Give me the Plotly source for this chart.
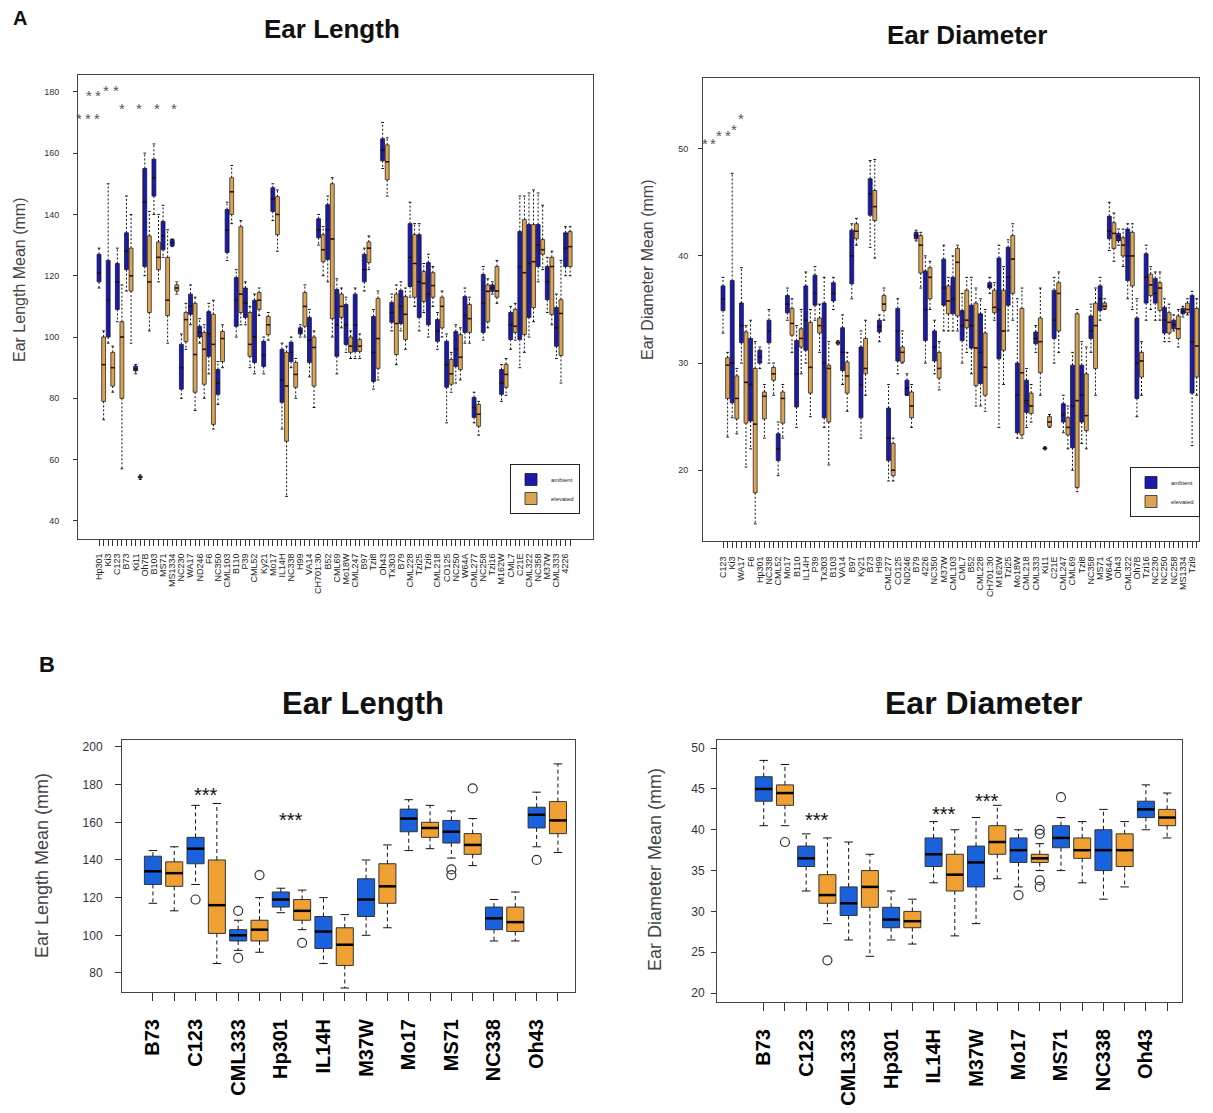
import plotly.graph_objects as go

W, H = 1213, 1113

# ---------------- Panel A (left): Ear Length, 52 genotypes ----------------
la_names = ["Hp301", "Ki3", "C123", "B73", "Ki11", "Oh7B", "B103", "MS71", "MS1334", "NC230",
            "WA17", "ND246", "F6", "NC350", "CML103", "B110", "P39", "CML52", "Ky21", "Mo17",
            "IL14H", "NC338", "H99", "VA14", "CH701:30", "B52", "CML69", "Mo18W", "CML247", "B97",
            "Tzi8", "Oh43", "Tx303", "B79", "CML228", "Tzi25", "Tzi9", "CML218", "CO125", "NC250",
            "W64A", "CML277", "NC258", "Tzi16", "M162W", "CML7", "C21E", "CML322", "NC358", "M37W",
            "CML333", "4226"]
# each row: [lower whisker, q1, median, q3, upper whisker]
la_amb = [[116, 118, 121, 127, 129], [98, 100, 112, 125, 150], [105, 109, 118, 124, 129], [115, 122, 128, 134, 146],
          [88, 89, 89.5, 90.5, 91], [120, 123, 144, 155, 160], [140, 146, 152, 158, 163], [126, 128.5, 133, 137.7, 143],
          [129.5, 129.8, 130.8, 131.8, 132], [80, 83, 90, 97.6, 101], [104, 107.4, 110, 114, 117], [98, 100, 101.5, 103.5, 106],
          [88, 93.7, 101, 108.3, 111], [78, 81.3, 85, 89.4, 92], [125, 127.6, 135, 141.6, 144], [100, 103.5, 112, 119.4, 122],
          [104, 106.4, 111, 116, 118], [88, 91.7, 100, 112, 114], [88, 90.4, 94, 98.6, 100], [138, 141, 145, 148.7, 150],
          [70, 78.7, 86, 96, 98], [90, 92, 95, 98.3, 100], [100, 101, 102, 103, 104], [87, 91.7, 99, 106.4, 109],
          [130, 132.4, 135, 138.6, 140], [118, 125.3, 135, 143.2, 146], [88, 93.7, 104, 115.5, 119], [95, 97.6, 104, 110.6, 113],
          [93, 95.3, 104, 114, 116], [115, 118, 122, 127, 129], [83, 85.5, 95, 106.7, 109], [155, 157.5, 161, 164.7, 170],
          [102, 104.8, 108, 111.3, 114], [102, 104.4, 110, 115.2, 118], [113, 116.5, 126, 137, 144], [102, 106.4, 118, 133.4, 137],
          [100, 104, 114, 124.3, 127], [96, 98.6, 102, 105.7, 108], [72, 83.6, 91, 98.6, 101], [85, 90.4, 96, 101.8, 104],
          [98, 101.5, 107, 113.2, 116], [72, 73.8, 77, 80.3, 82], [99, 101.5, 111, 120.4, 123], [114, 114.9, 116, 117, 118],
          [79, 81.3, 85, 89.4, 91], [96, 99.2, 104, 108, 110], [90, 99.2, 123, 134.4, 146], [100, 106.4, 124, 136.7, 147],
          [118, 123, 130, 136.7, 147], [108, 112.2, 118, 123, 126], [93, 97, 103, 109.6, 114], [120, 123, 129, 134, 136]]
la_ele = [[73, 79, 91, 100, 102], [82, 84, 90, 95, 97], [57, 80, 100, 105, 117], [98, 115, 120, 129, 140],
          [53.5, 54, 54.3, 54.6, 55], [102, 108, 118, 133, 141], [118, 122, 126, 131, 140], [98, 107, 112, 126, 135],
          [114, 115, 116, 117, 118], [96, 98.5, 105.7, 108, 111], [76, 82, 94.3, 111, 113], [80, 84.6, 96, 101.5, 104],
          [70, 71.5, 97.6, 107.4, 112], [90, 92, 99.5, 101.8, 104], [137, 140, 147.4, 152, 156], [104, 108, 114, 136, 138],
          [90, 93.7, 97.6, 108, 110], [107, 109, 112, 114.5, 116], [99, 100.8, 104, 106.7, 108], [128, 133.4, 140, 145.8, 148],
          [48, 66, 84, 95, 97], [80, 83.6, 87.8, 91.7, 93], [100, 103.5, 110, 114.5, 117], [77, 84, 96.6, 100, 102],
          [120, 124.6, 128.5, 133.4, 136], [100, 106, 132, 150, 152], [103, 106.4, 110, 114, 116], [93, 95, 97, 100, 102],
          [93, 95.3, 97, 99.2, 101], [122, 124.3, 129, 131, 133], [86, 89.8, 99.5, 112.6, 115], [146, 151.3, 157.2, 162.7, 165],
          [91, 94.3, 104.4, 114, 117], [96, 99.2, 107.4, 113.2, 116], [110, 113, 124, 133.4, 137], [108, 111.6, 117.5, 121.4, 124],
          [110, 113, 116.8, 121, 123], [100, 103, 110, 113, 115], [82, 84.6, 88, 92.7, 95], [86, 89.4, 93.4, 100.8, 103],
          [98, 101.5, 106, 110.6, 113], [68, 70.9, 74.8, 78, 79], [103, 105, 114.9, 117, 119], [111, 113, 115, 123, 125],
          [81, 83.6, 87.8, 91.1, 93], [99, 101.5, 103.5, 109, 111], [95, 100.8, 121, 138.3, 146], [105, 109.6, 124.6, 136.7, 148],
          [122, 127, 128.5, 131.8, 143], [104, 107.4, 123, 126, 128], [85, 94, 107.7, 112.2, 125], [120, 123, 129.5, 134.4, 136]]
la_yticks = [40, 60, 80, 100, 120, 140, 160, 180]

# ---------------- Panel A (right): Ear Diameter, 52 genotypes ----------------
ra_names = ["C123", "Ki3", "WA17", "F6", "Hp301", "NC338", "CML52", "Mo17", "B110", "IL14H",
            "P39", "Tx303", "B103", "VA14", "B97", "Ky21", "B73", "H99", "CML277", "CO125",
            "ND246", "B79", "4226", "NC350", "M37W", "CML103", "CML7", "B52", "CML228", "CH701:30",
            "M162W", "Tzi25", "Mo18W", "CML218", "CML333", "Ki11", "C21E", "CML247", "CML69", "Tzi8",
            "NC358", "MS71", "W64A", "Oh43", "CML322", "Oh7B", "Tzi16", "NC230", "NC250", "NC258",
            "MS1334", "Tzi9"]
ra_amb = [[32.8, 34.9, 36, 37.2, 38], [24.9, 26.3, 30, 37.7, 47.7], [30, 31.9, 33.5, 35.6, 38.9], [22, 24.6, 28, 32.3, 34],
          [29.5, 30, 30.6, 31.2, 31.5], [30, 31.9, 33, 34, 35], [19.5, 20.9, 22, 23.4, 24.5], [34, 34.7, 35.5, 36.3, 37],
          [24, 25.9, 29, 32.1, 33.5], [30, 31.2, 34, 37.2, 38.5], [34, 35.4, 36.5, 38.2, 39], [24, 24.9, 30, 35.6, 38],
          [35, 35.8, 36.5, 37.5, 38], [28, 29.3, 31, 33.3, 34.5], [36, 37.4, 40, 42.4, 43], [23, 24.9, 28, 31.5, 33],
          [40.8, 43.8, 45.8, 47.2, 48.9], [32, 32.9, 33.4, 34, 34.5], [19, 20.9, 23, 25.8, 28], [29, 30.2, 33, 35.1, 36],
          [27, 27, 27.7, 28.4, 29], [41.4, 41.6, 41.9, 42.2, 42.4], [30, 32.1, 35, 38.6, 40], [29, 30.2, 31.5, 33, 34],
          [33, 35.4, 37, 39.7, 41], [33, 34.6, 36, 38, 40], [30, 32.1, 33.5, 34.9, 36.5], [29, 31.4, 33.5, 35.4, 38],
          [26, 28.1, 31, 34.6, 36], [36.5, 37, 37.2, 37.5, 38], [24, 30.4, 35, 39.8, 41], [33, 35.4, 38, 40.8, 41.5],
          [23, 23.5, 27, 30, 36], [24, 25.4, 26.5, 28.4, 29.5], [31, 31.8, 32.3, 32.9, 33.5], [21.9, 22, 22.05, 22.1, 22.2],
          [30, 32.3, 34, 36.8, 38], [23.5, 24.5, 25.2, 26.2, 27], [20, 22.1, 26, 29.8, 31], [22.5, 24.5, 27, 29.8, 32],
          [31, 32.3, 33, 34.4, 35.5], [34, 34.9, 36, 37.2, 38], [40.5, 41.6, 42.3, 43.7, 45], [41, 41.4, 41.8, 42.1, 42.5],
          [36, 37.7, 40, 42.5, 43], [25, 26.7, 30, 34.2, 36], [34, 35.6, 38, 40.2, 41], [34, 35.6, 36.5, 37.9, 38.5],
          [32, 32.8, 34, 35.2, 36], [33, 33.2, 33.6, 34, 34.5], [34.3, 34.6, 34.8, 35.1, 35.3], [22.3, 27.2, 32, 36.3, 36.7]]
ra_ele = [[23.1, 26.7, 29.8, 30.5, 31], [23.4, 24.8, 26.7, 28.8, 29.5], [20.3, 24.4, 28.2, 32.9, 33.5], [15, 17.9, 24.3, 29.5, 32],
          [23, 24.8, 26.9, 27.3, 28], [27, 28.4, 29, 29.6, 30], [23, 24.4, 26.7, 27.3, 28], [31, 32.6, 33.7, 35.1, 36],
          [29, 31.5, 32.3, 33.2, 35], [25, 27.2, 29.6, 33.8, 35], [31, 32.8, 33.5, 34.2, 35.5], [20.5, 24.5, 29.5, 29.8, 32],
          [31.7, 31.8, 31.9, 32, 32.1], [25.5, 27.2, 28.8, 30.1, 31], [41, 41.6, 42.3, 43, 43.5], [27, 29, 29.5, 32.3, 34],
          [39.8, 43.3, 44.6, 46.1, 49], [34, 34.9, 35.5, 36.3, 37], [19, 19.5, 20, 22.5, 23], [30, 30.1, 31, 31.5, 33],
          [24, 24.9, 26, 27.3, 28], [37, 38.4, 41, 41.9, 42.2], [35, 36, 38, 38.9, 39.5], [27.5, 28.6, 29.5, 31, 32],
          [33, 34.6, 35.8, 37.2, 38], [33, 34.4, 39.4, 40.7, 41], [31, 33.3, 34, 36.8, 38], [26, 27.9, 31.4, 35.6, 37],
          [25.5, 27, 29.6, 32.8, 35], [34, 34.7, 35.2, 36.8, 37.5], [28, 31.2, 33, 36.8, 39], [34, 36.5, 39.7, 41.9, 43],
          [23, 23.3, 29.1, 35.1, 37], [24.5, 25.3, 26, 27.2, 28], [27, 29.1, 32, 34.2, 37], [24, 24.1, 24.5, 25, 25.2],
          [31, 33, 36.5, 37.5, 38.5], [22, 23.3, 24, 24.9, 26], [18, 18.4, 26.5, 34.6, 35], [22, 23.7, 25.1, 29, 31.5],
          [27, 29.5, 33.5, 35.6, 37], [35, 35.1, 35.3, 35.6, 36], [39.5, 40.7, 42.1, 43.1, 44], [39, 40, 41, 41.7, 42.5],
          [35, 37.2, 40, 42.2, 43], [27, 28.7, 30.2, 31, 32], [35, 36.3, 37.3, 38.3, 39], [34, 34.9, 37, 37.5, 38.5],
          [32, 32.8, 33.8, 34.7, 35.5], [31.5, 32.3, 33.2, 34.4, 35], [34.5, 34.7, 35, 35.6, 36], [27, 28.7, 31.6, 35.1, 36]]
ra_yticks = [20, 30, 40, 50]

# ---------------- Panel B: 10 genotypes ----------------
b_names = ["B73", "C123", "CML333", "Hp301", "IL14H", "M37W", "Mo17", "MS71", "NC338", "Oh43"]
lb_amb = [[117, 127, 134, 142, 145], [127, 138, 146, 152, 169], [92, 97, 100, 103, 108], [112, 115, 119, 123, 125],
          [85, 93, 102, 110, 120], [100, 110, 119, 130, 140], [145, 155, 162, 167, 172], [141, 149, 155, 161, 166],
          [97, 103, 109, 115, 119], [147, 157, 164, 168, 176]]
lb_ele = [[113, 126, 133, 139, 147], [85, 101, 116, 140, 170], [91, 97, 103, 108, 120], [103, 108, 113, 119, 124],
          [72, 84, 95, 104, 111], [104, 117, 126, 138, 148], [146, 152, 157, 160, 169], [137, 143, 148, 154, 162],
          [97, 102, 107, 115, 123], [144, 154, 161, 171, 191]]
lb_amb_out = [[], [119], [88, 113], [], [], [], [], [132, 135], [], [140]]
lb_ele_out = [[], [], [132], [96], [], [], [], [178], [], []]
lb_yticks = [80, 100, 120, 140, 160, 180, 200]

rb_amb = [[40.5, 43.5, 45, 46.5, 48.5], [32.5, 35.5, 36.5, 38, 39.5], [26.5, 29.5, 31, 33, 38.5], [26.5, 28, 29, 30.5, 32.5],
          [33.5, 35.5, 37, 39, 41], [28.5, 33, 36, 38, 41.5], [33, 36, 37.5, 39, 40], [35, 37.8, 39, 40.5, 41.5],
          [31.5, 35, 37.5, 40, 42.5], [40, 41.5, 42.5, 43.5, 45.5]]
rb_ele = [[40.5, 43, 44.5, 45.5, 48], [28.5, 31, 32, 34.5, 39], [24.5, 30.5, 33, 35, 37], [26, 28, 28.8, 30, 31.5],
          [27, 32.5, 34.5, 37, 40], [34, 37, 38.5, 40.5, 43], [35, 36, 36.5, 37, 38.3], [33.5, 36.5, 37.5, 39, 41],
          [33, 35.5, 37.5, 39.5, 41], [39, 40.5, 41.5, 42.5, 44.5]]
rb_amb_out = [[], [], [], [], [], [], [32], [44], [], []]
rb_ele_out = [[38.5], [24], [], [], [], [], [33, 33.8, 39.5, 40], [], [], []]
rb_yticks = [20, 25, 30, 35, 40, 45, 50]

FONT = "Liberation Sans, Arial, sans-serif"

A_BLUE, A_ORANGE = "#1b1ba6", "#dca352"
B_BLUE, B_ORANGE = "#1a62dd", "#f0a032"

fig = go.Figure()


def add_group(stats, k, xa, ya, fill, box_w, line_col, line_w, med_col, med_w,
              wh_dash, wh_w, cap_half, name, legend="legend", showlegend=False,
              outliers=None, out_size=8):
    pos = [2 * i + k for i in range(len(stats))]
    lo = [s[0] for s in stats]
    q1 = [s[1] for s in stats]
    md = [s[2] for s in stats]
    q3 = [s[3] for s in stats]
    hi = [s[4] for s in stats]
    fig.add_trace(go.Box(x=pos, q1=q1, median=md, q3=q3, lowerfence=q1, upperfence=q3,
                         width=box_w, fillcolor=fill, line=dict(color=line_col, width=line_w),
                         whiskerwidth=0, name=name, showlegend=showlegend, legend=legend,
                         xaxis=xa, yaxis=ya, hoverinfo="skip", boxpoints=False))
    wx, wy, cx, cy, mx, my = [], [], [], [], [], []
    for p, l, a, m, b, h in zip(pos, lo, q1, md, q3, hi):
        wx += [p, p, None, p, p, None]
        wy += [b, h, None, a, l, None]
        cx += [p - cap_half, p + cap_half, None, p - cap_half, p + cap_half, None]
        cy += [h, h, None, l, l, None]
        mx += [p - box_w / 2, p + box_w / 2, None]
        my += [m, m, None]
    fig.add_trace(go.Scatter(x=wx, y=wy, mode="lines", xaxis=xa, yaxis=ya, showlegend=False,
                             line=dict(color="#111", width=wh_w, dash=wh_dash), hoverinfo="skip"))
    fig.add_trace(go.Scatter(x=cx, y=cy, mode="lines", xaxis=xa, yaxis=ya, showlegend=False,
                             line=dict(color="#111", width=wh_w), hoverinfo="skip"))
    fig.add_trace(go.Scatter(x=mx, y=my, mode="lines", xaxis=xa, yaxis=ya, showlegend=False,
                             line=dict(color=med_col, width=med_w), hoverinfo="skip"))
    if outliers:
        ox, oy = [], []
        for p, vals in zip(pos, outliers):
            for v in vals:
                ox.append(p)
                oy.append(v)
        fig.add_trace(go.Scatter(x=ox, y=oy, mode="markers", xaxis=xa, yaxis=ya, showlegend=False,
                                 marker=dict(symbol="circle-open", size=out_size,
                                             color="#333", line=dict(width=1.2)),
                                 hoverinfo="skip"))


# Panel A left
add_group(la_amb, 0, "x", "y", A_BLUE, 0.85, "#15153a", 0.8, "#2a0a0a", 1.5, "2px,2px", 1, 0.3,
          "ambient", legend="legend", showlegend=True)
add_group(la_ele, 1, "x", "y", A_ORANGE, 0.85, "#2a2a2a", 0.8, "#3a0a0a", 1.5, "2px,2px", 1, 0.3,
          "elevated", legend="legend", showlegend=True)
# Panel A right
add_group(ra_amb, 0, "x2", "y2", A_BLUE, 0.85, "#15153a", 0.8, "#2a0a0a", 1.5, "2px,2px", 1, 0.3,
          "ambient", legend="legend2", showlegend=True)
add_group(ra_ele, 1, "x2", "y2", A_ORANGE, 0.85, "#2a2a2a", 0.8, "#3a0a0a", 1.5, "2px,2px", 1, 0.3,
          "elevated", legend="legend2", showlegend=True)
# Panel B left
add_group(lb_amb, 0, "x3", "y3", B_BLUE, 0.8, "#333", 1, "#000", 2.5, "4px,3px", 1, 0.2,
          "ambient", outliers=lb_amb_out, out_size=9)
add_group(lb_ele, 1, "x3", "y3", B_ORANGE, 0.8, "#333", 1, "#000", 2.5, "4px,3px", 1, 0.2,
          "elevated", outliers=lb_ele_out, out_size=9)
# Panel B right
add_group(rb_amb, 0, "x4", "y4", B_BLUE, 0.8, "#333", 1, "#000", 2.5, "4px,3px", 1, 0.2,
          "ambient", outliers=rb_amb_out, out_size=9)
add_group(rb_ele, 1, "x4", "y4", B_ORANGE, 0.8, "#333", 1, "#000", 2.5, "4px,3px", 1, 0.2,
          "elevated", outliers=rb_ele_out, out_size=9)


def xcfg(px0, px1, rng, names, anchor, size, ticklen, standoff, bold=False, col="#222"):
    tv = list(range(2 * len(names)))
    tt = []
    for i in tv:
        if i % 2 == 0:
            tt.append("<b>%s</b>" % names[i // 2] if bold else names[i // 2])
        else:
            tt.append("")
    return dict(domain=[px0 / W, px1 / W], range=rng, anchor=anchor, tickmode="array",
                tickvals=tv, ticktext=tt, tickangle=-90, ticks="outside", ticklen=ticklen,
                tickcolor="#333", tickwidth=1, showline=True, mirror=True, linecolor="#444",
                linewidth=1, showgrid=False, zeroline=False, ticklabelstandoff=standoff,
                tickfont=dict(family=FONT, size=size, color=col))


def ycfg(py_top, py_bot, rng, ticks, anchor, size, ticklen, standoff):
    return dict(domain=[1 - py_bot / H, 1 - py_top / H], range=rng, anchor=anchor,
                tickmode="array", tickvals=ticks, ticks="outside", ticklen=ticklen,
                tickcolor="#333", showline=True, mirror=True, linecolor="#444", linewidth=1,
                showgrid=False, zeroline=False, ticklabelstandoff=standoff,
                tickfont=dict(family=FONT, size=size, color="#333"))


fig.update_layout(
    width=W, height=H, margin=dict(l=0, r=0, t=0, b=0),
    paper_bgcolor="white", plot_bgcolor="white", boxmode="overlay",
    font=dict(family=FONT, color="#222"),
    xaxis=xcfg(78, 593, [-4.6, 108.0], la_names, "y", 9, 6, 4),
    yaxis=ycfg(75, 539, [34.1, 185.5], la_yticks, "x", 9, 4, 12),
    xaxis2=xcfg(703, 1199, [-4.35, 103.5], ra_names, "y2", 9, 6, 5),
    yaxis2=ycfg(78, 541, [13.4, 56.6], ra_yticks, "x2", 9, 4, 8),
    xaxis3=xcfg(122, 575, [-1.45, 19.8], b_names, "y3", 20, 8, 10, bold=True, col="#000"),
    yaxis3=ycfg(740, 992, [69.9, 203.7], lb_yticks, "x3", 12, 6, 10),
    xaxis4=xcfg(717, 1182, [-2.2, 19.7], b_names, "y4", 20, 8, 10, bold=True, col="#000"),
    yaxis4=ycfg(740, 1002, [18.9, 51.0], rb_yticks, "x4", 12, 5, 4),
    legend=dict(x=510 / W, y=1 - 514 / H, xanchor="left", yanchor="bottom", bgcolor="white",
                bordercolor="#222", borderwidth=1, font=dict(size=6, family=FONT),
                itemwidth=30, tracegroupgap=0, itemclick=False),
    legend2=dict(x=1130 / W, y=1 - 517 / H, xanchor="left", yanchor="bottom", bgcolor="white",
                 bordercolor="#222", borderwidth=1, font=dict(size=6, family=FONT),
                 itemwidth=30, tracegroupgap=0, itemclick=False),
)

ann = []


def txt(text, px, py, size, bold=False, angle=0, color="#111"):
    ann.append(dict(text="<b>%s</b>" % text if bold else text, x=px / W, y=1 - py / H,
                    xref="paper", yref="paper", xanchor="center", yanchor="middle",
                    showarrow=False, textangle=angle,
                    font=dict(family=FONT, size=size, color=color)))


txt("A", 20, 18, 20, bold=True)
txt("B", 47, 664, 22, bold=True)
txt("Ear Length", 332, 29, 26, bold=True)
txt("Ear Diameter", 967, 35, 26, bold=True)
txt("Ear Length", 363, 703, 31, bold=True)
txt("Ear Diameter", 983, 703, 32, bold=True)
txt("Ear Length Mean (mm)", 20, 280, 16, angle=-90, color="#444")
txt("Ear Diameter Mean (mm)", 647, 270, 16, angle=-90, color="#444")
txt("Ear Length Mean (mm)", 42, 866, 18, angle=-90, color="#444")
txt("Ear Diameter Mean (mm)", 655, 870, 18, angle=-90, color="#444")

# significance stars, panel A (grey asterisks)
for sx, sy in [(79, 119), (88, 119), (97, 119), (89, 96), (98, 96), (106, 91), (116, 91),
               (122, 108), (139, 108), (157, 108), (174, 108)]:
    txt("*", sx, sy, 15, color="#555")
for sx, sy in [(705, 143), (713, 143), (719, 135), (728, 135), (734, 129), (741, 119)]:
    txt("*", sx, sy, 15, color="#555")

# significance stars, panel B (anchored to genotype pairs)
for xa, ya, gi, yv in [("x3", "y3", 1, 177), ("x3", "y3", 3, 164),
                       ("x4", "y4", 1, 41.8), ("x4", "y4", 4, 42.6), ("x4", "y4", 5, 44.1)]:
    ann.append(dict(text="***", x=2 * gi + 0.5, y=yv, xref=xa, yref=ya, xanchor="center",
                    yanchor="middle", yshift=-5, showarrow=False,
                    font=dict(family=FONT, size=20, color="#111")))

fig.update_layout(annotations=ann)
fig.write_html("out.html")
